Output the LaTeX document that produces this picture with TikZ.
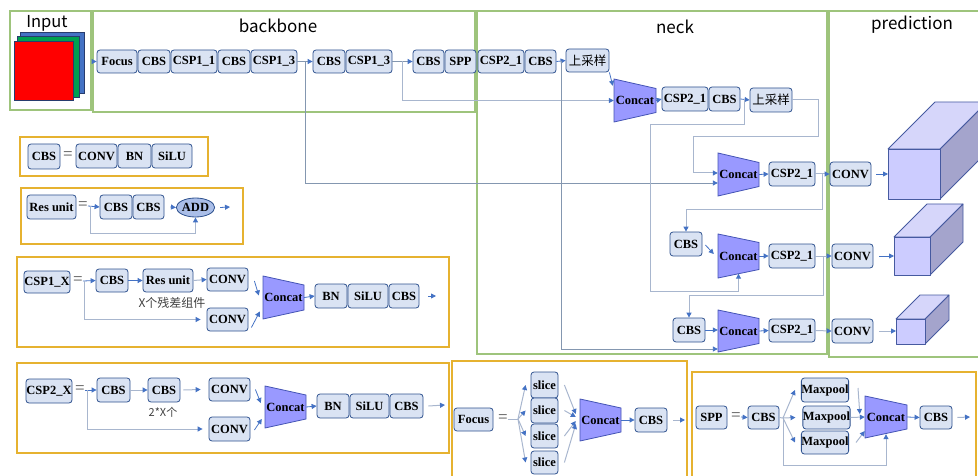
\documentclass[tikz,border=0pt]{standalone}
\usepackage{fontspec}
\setmainfont{Liberation Serif}
\newfontfamily\cjk{Noto Sans CJK SC}
\usetikzlibrary{arrows.meta,calc,shapes.geometric}
\definecolor{bfill}{RGB}{218,227,243}
\definecolor{bdraw}{RGB}{47,82,143}
\definecolor{cfill}{RGB}{153,153,255}
\definecolor{cdraw}{RGB}{68,84,180}
\definecolor{arrb}{RGB}{68,114,196}
\definecolor{lnA}{RGB}{132,151,176}
\definecolor{lnB}{RGB}{168,182,206}
\definecolor{gfr}{RGB}{158,196,124}
\definecolor{yfr}{RGB}{230,178,48}
\definecolor{addfill}{RGB}{170,190,232}
\definecolor{cubefront}{RGB}{204,204,255}
\definecolor{cubetop}{RGB}{214,214,250}
\definecolor{cubeside}{RGB}{164,164,204}
\definecolor{cubedraw}{RGB}{70,90,160}
\definecolor{inblue}{RGB}{68,114,196}
\definecolor{ingreen}{RGB}{0,160,80}
\definecolor{sqdraw}{RGB}{40,60,110}
\newcommand\Bx[6]{\node[blk, minimum width={#4-#2}, minimum height={#5-#3}] (#1) at ({(#2+#4)/2},{(#3+#5)/2}) {#6};}
\newcommand\Fr[6]{\node[#6, inner sep=0pt, minimum width={#4-#2}, minimum height={#5-#3}] (#1) at ({(#2+#4)/2},{(#3+#5)/2}) {};}
\newcommand\Cc[6]{\draw[catst] (#2,{#4-#5}) -- (#3,{#4-#6}) -- (#3,{#4+#6}) -- (#2,{#4+#5}) -- cycle;
 \node[cattx, minimum width={#3-#2}, minimum height={2*#5}] (#1) at ({(#2+#3)/2},#4) {Concat};}
\newcommand\Cube[5]{%
 \draw[cubeS, fill=cubeside] (#3,#2) -- ({#3+#5},{#2-#5}) -- ({#3+#5},{#4-#5}) -- (#3,#4) -- cycle;
 \draw[cubeS, fill=cubetop] (#1,#2) -- ({#1+#5},{#2-#5}) -- ({#3+#5},{#2-#5}) -- (#3,#2) -- cycle;
 \draw[cubeS, fill=cubefront] (#1,#2) rectangle (#3,#4);}
\newcommand\Eq[3]{\node[eqst] (#1) at (#2,#3) {=};}
\begin{document}
\begin{tikzpicture}[x=1pt,y=-1pt,
 blk/.style={draw=bdraw, fill=bfill, rounded corners=3pt, line width=0.8pt, inner sep=0pt, font=\fontsize{12.5}{14}\selectfont\bfseries},
 catst/.style={draw=cdraw, fill=cfill, line width=0.8pt},
 cattx/.style={inner sep=0pt, font=\fontsize{12.5}{14}\selectfont\bfseries},
 tipb/.style={-{Triangle[length=5pt,width=5pt,color=arrb]}},
 arr/.style={draw=arrb, line width=0.8pt, tipb},
 lna/.style={draw=lnA, line width=0.9pt, tipb},
 lnb/.style={draw=lnB, line width=1pt, tipb},
 plain/.style={draw=lnB, line width=1pt},
 gframe/.style={draw=gfr, line width=2pt},
 yframe/.style={draw=yfr, line width=2pt},
 eqst/.style={inner sep=0pt, font=\fontsize{17}{17}\selectfont, text=black!70},
 ttl/.style={font=\cjk\fontsize{17}{20}\selectfont},
 cubeS/.style={draw=cubedraw, line width=0.8pt, line join=round},
 sq/.style={draw=sqdraw, line width=0.6pt},
 note/.style={font=\cjk\fontsize{12}{14}\selectfont, text=black!75},
 addst/.style={ellipse, draw=bdraw, fill=addfill, line width=0.8pt, inner sep=0pt, minimum width=35, minimum height=19, font=\fontsize{12.5}{14}\selectfont\bfseries}
]
\useasboundingbox (0,0) rectangle (978,476);
% frames
\Fr{inframe}{10}{11}{91}{110}{gframe}
\Fr{bbframe}{93}{11}{475}{112}{gframe}
\Fr{neckframe}{477}{11}{827}{354}{gframe}
\Fr{predframe}{829}{11}{990}{357}{gframe}
\Fr{cbsL}{20}{137}{208}{176}{yframe}
\Fr{resL}{21}{188}{243}{244}{yframe}
\Fr{c1L}{17}{257}{449}{347}{yframe}
\Fr{c2L}{17}{363}{449}{453}{yframe}
\Fr{fL}{452}{361}{687}{484}{yframe}
\Fr{sL}{692}{372}{976}{484}{yframe}
% titles
\node[ttl, font=\cjk\fontsize{16.5}{18}\selectfont] (tin) at (47,23) {Input};
\node[ttl] (tbb) at (278,26) {backbone};
\node[ttl] (tneck) at (675,27) {neck};
\node[ttl] (tpred) at (912,25) {prediction};
% input
\draw[sq, fill=inblue] (20,32) rectangle (84,93);
\draw[sq, fill=ingreen] (17,36) rectangle (79,97);
\draw[sq, fill=red] (14,41) rectangle (73,100);
% backbone
\Bx{focus}{97}{50}{137}{73}{Focus}
\Bx{bcbs1}{138}{50}{170}{73}{CBS}
\Bx{csp11}{171}{50}{217}{73}{CSP1\_1}
\Bx{bcbs2}{218}{50}{250}{73}{CBS}
\Bx{csp13a}{251}{50}{297}{73}{CSP1\_3}
\Bx{bcbs3}{313}{50}{345}{73}{CBS}
\Bx{csp13b}{346}{50}{392}{73}{CSP1\_3}
\Bx{bcbs4}{413}{50}{444}{73}{CBS}
\Bx{spp}{445}{50}{476}{73}{SPP}
\Bx{csp21a}{478}{50}{524}{73}{CSP2\_1}
\Bx{ncbs1}{525}{50}{556}{73}{CBS}
\Bx{up1}{566}{49}{609}{72}{{\cjk\mdseries 上采样}}
% neck
\Cc{cat1}{614}{656}{100.5}{21.5}{12}
\Bx{csp21b}{662}{87}{708}{111}{CSP2\_1}
\Bx{ncbs2}{709}{87}{740}{111}{CBS}
\Bx{up2}{750}{88}{792}{112}{{\cjk\mdseries 上采样}}
\Cc{cat2}{718}{759}{174.5}{21.5}{12}
\Bx{cspr2}{769}{162}{815}{186}{CSP2\_1}
\Bx{conv1}{830}{162}{871}{186}{CONV}
\Bx{cbsr3}{670}{232}{702}{256}{CBS}
\Cc{cat3}{718}{759}{256}{22}{13.5}
\Bx{cspr3}{769}{244}{815}{268}{CSP2\_1}
\Bx{conv2}{832}{244}{873}{268}{CONV}
\Bx{cbsr4}{673}{318}{705}{342}{CBS}
\Cc{cat4}{718}{759}{331}{21}{12.5}
\Bx{cspr4}{769}{319}{815}{342}{CSP2\_1}
\Bx{conv3}{832}{319}{873}{343}{CONV}
% main connectors
\draw[arr] (focus.west -| inframe.east) -- (focus.west);
\draw[lna] (csp13a.east) -- (bcbs3.west);
\draw[lna] (csp13b.east) -- (bcbs4.west);
\draw[lna] ($(csp13a.east)!0.5!(bcbs3.west)$) |- ($(cat2.west)+(0,8.5)$);
\draw[lnb] ($(csp13b.east)!0.5!(bcbs4.west)$) |- (cat1.west);
\draw[arr] (ncbs1.east) -- (up1.west);
\draw[lna] ($(ncbs1.east)!0.6!(up1.west)$) |- ($(cat4.west)+(0,18)$);
\draw[arr] (up1.south east) -- ($(cat1.north west)+(-1,7)$);
\draw[arr] (cat1.east) -- (csp21b.west);
\draw[arr] (ncbs2.east) -- (up2.west);
\draw[lnb] ($(ncbs2.east)!0.4!(up2.west)$) -- ++(0,25) -| (650,291) -| ($(cat3.south)+(0,-4.5)$);
\draw[lnb] (up2.east) -- ++(26,0) |- (693,137) |- ($(cat2.west)+(0,-1.5)$);
\draw[arr] (cat2.east) -- (cspr2.west);
\draw[lnb] (cspr2.east) -- (conv1.west);
\draw[lnb] ($(cspr2.east)!0.47!(conv1.west)$) |- ($(cbsr3.north)+(0,-22)$) -- (cbsr3.north);
\draw[arr] ($(cbsr3.east)+(3,1)$) -- ($(cat3.west)+(-4,-2)$);
\draw[arr] (cat3.east) -- (cspr3.west);
\draw[lnb] (cspr3.east) -- (conv2.west);
\draw[lnb] ($(cspr3.east)!0.5!(conv2.west)$) |- ($(cbsr4.north)+(0,-22)$) -- (cbsr4.north);
\draw[arr] (cbsr4.east) -- ($(cat4.west)+(0,-1)$);
\draw[arr] (cat4.east) -- (cspr4.west);
\draw[lnb] (cspr4.east) -- (conv3.west);
% cubes
\Cube{888}{149}{940}{199}{47}
\coordinate (cube1) at (888,174);
\draw[arr] ($(conv1.east)+(5,0)$) -- (cube1);
\Cube{894}{237}{930}{275}{33}
\coordinate (cube2) at (894,256);
\draw[arr] ($(conv2.east)+(6,0)$) -- (cube2);
\Cube{896}{319}{925}{344}{24}
\coordinate (cube3) at (896,331);
\draw[lnb] ($(conv3.east)+(6,0)$) -- (cube3);
% CBS legend
\Bx{lcbs}{28}{144}{60}{169}{CBS}
\Eq{eq1}{68}{156}
\Bx{lconv}{76}{144}{117}{168}{CONV}
\Bx{lbn}{118}{144}{151}{168}{BN}
\Bx{lsilu}{152}{144}{192}{168}{SiLU}
% Res unit legend
\Bx{lres}{27}{195}{76}{219}{Res unit}
\Eq{eq2}{83}{206}
\Bx{rcbs1}{100}{195}{132}{219}{CBS}
\Bx{rcbs2}{133}{195}{164}{219}{CBS}
\node[addst] (add) at (195.5,207.5) {ADD};
\draw[arr] (eq2.east) -- (rcbs1.west);
\draw[lnb] ($(eq2.east)+(3,0)$) |- ($(add.south)+(0,16)$) -- (add.south);
\draw[arr] ($(rcbs2.east)+(6,0)$) -- (add.west);
\coordinate (rout) at (230,207);
\draw[arr] ($(add.east)+(5,0)$) -- (rout);
% CSP1_X legend
\Bx{c1x}{24}{271}{70}{293}{CSP1\_X}
\Eq{eq3}{78}{281}
\Bx{c1cbs}{96}{269}{128}{292}{CBS}
\Bx{c1res}{143}{269}{193}{292}{Res unit}
\Bx{c1conv1}{207}{268}{248}{291}{CONV}
\Bx{c1conv2}{207}{308}{248}{331}{CONV}
\Cc{c1cat}{263}{304}{297.5}{21.5}{12.5}
\Bx{c1bn}{315}{284}{347}{308}{BN}
\Bx{c1silu}{348}{284}{388}{308}{SiLU}
\Bx{c1cbs2}{389}{284}{419}{308}{CBS}
\node[note] (c1note) at (172,303) {X个残差组件};
\draw[arr] (eq3.east) -- (c1cbs.west);
\draw[lnb] ($(eq3.east)+(2,0)$) |- ($(c1conv2.west)+(-6,0)$);
\draw[arr] (c1cbs.east) -- (c1res.west);
\draw[lnb] (c1res.east) -- (c1conv1.west);
\draw[arr] ($(c1conv1.east)+(6,1.5)$) -- ($(c1cat.west)+(-4,-2)$);
\draw[arr] ($(c1conv2.east)+(3,8)$) -- ($(c1cat.west)+(-3,14)$);
\draw[arr] (c1cat.east) -- (c1bn.west);
\coordinate (c1out) at (436,296);
\draw[arr] ($(c1cbs2.east)+(9,0)$) -- (c1out);
% CSP2_X legend
\Bx{c2x}{26}{379}{72}{403}{CSP2\_X}
\Eq{eq4}{80}{390}
\Bx{c2cbs1}{97}{378}{130}{402}{CBS}
\Bx{c2cbs2}{148}{378}{180}{402}{CBS}
\node[note, font=\cjk\fontsize{11}{13}\selectfont] (c2note) at (163,412) {2*X个};
\Bx{c2conv1}{209}{378}{250}{401}{CONV}
\Bx{c2conv2}{209}{417}{250}{441}{CONV}
\Cc{c2cat}{265}{306}{407}{21}{12}
\Bx{c2bn}{317}{394}{349}{418}{BN}
\Bx{c2silu}{350}{394}{389}{418}{SiLU}
\Bx{c2cbs3}{390}{394}{423}{418}{CBS}
\draw[arr] (eq4.east) -- (c2cbs1.west);
\draw[lnb] ($(eq4.east)+(3,0)$) |- ($(c2conv2.west)+(-6,0)$);
\draw[lnb] (c2cbs1.east) -- (c2cbs2.west);
\draw[lnb] ($(c2cbs2.east)+(3,0)$) -- ($(c2conv1.west)+(-8,0)$);
\draw[arr] ($(c2conv1.east)+(5,0)$) -- ($(c2cat.west)+(-4,-4)$);
\draw[arr] ($(c2conv2.east)+(4,1)$) -- ($(c2cat.west)+(-3,12)$);
\draw[arr] (c2cat.east) -- (c2bn.west);
\coordinate (c2out) at (445,405);
\draw[lnb] ($(c2cbs3.east)+(5,0)$) -- (c2out);
% Focus legend
\Bx{lfocus}{454}{408}{493}{431}{Focus}
\Eq{eq5}{503}{419}
\Bx{sl1}{531}{372}{558}{398}{slice}
\Bx{sl2}{531}{398}{558}{423}{slice}
\Bx{sl3}{531}{424}{558}{448}{slice}
\Bx{sl4}{531}{451}{558}{474}{slice}
\Cc{fcat}{580}{621}{420}{21}{12}
\Bx{fcbs}{635}{408}{667}{432}{CBS}
\coordinate (ff) at (518,419);
\draw[plain] (eq5.east) -- (ff);
\foreach \s in {sl1,sl2,sl3,sl4} \draw[lnb] (ff) -- ($(\s.west)+(-5,0)$);
\draw[lnb] ($(sl1.east)+(6,0)$) -- ($(fcat.west)+(-4,-6)$);
\draw[lnb] ($(sl2.east)+(6,0)$) -- ($(fcat.west)+(-4,-3)$);
\draw[lnb] ($(sl3.east)+(6,0)$) -- ($(fcat.west)+(-4,1)$);
\draw[lnb] ($(sl4.east)+(6,0)$) -- ($(fcat.west)+(-4,4)$);
\draw[arr] (fcat.east) -- (fcbs.west);
\coordinate (fout) at (685,420);
\draw[lnb] ($(fcbs.east)+(6,0)$) -- (fout);
% SPP legend
\Bx{lspp}{696}{406}{727}{429}{SPP}
\Eq{eq6}{736}{417}
\Bx{scbs1}{748}{406}{779}{429}{CBS}
\Bx{mp1}{802}{378}{848}{402}{Maxpool}
\Bx{mp2}{803}{406}{850}{429}{Maxpool}
\Bx{mp3}{802}{431}{848}{454}{Maxpool}
\Cc{scat}{865}{907}{417}{21}{12}
\Bx{scbs2}{920}{406}{952}{429}{CBS}
\draw[arr] (eq6.east) -- (scbs1.west);
\coordinate (sf) at (783,418);
\draw[plain] (scbs1.east) -- (sf);
\draw[lnb] (sf) -- ($(mp1.west)+(-6,0)$);
\draw[lnb] (sf) -- ($(mp2.west)+(-7,0)$);
\draw[lnb] (sf) -- ($(mp3.west)+(-6,0)$);
\draw[lnb] (sf) |- ($(scat.south)+(0,27)$) -- ($(scat.south)+(0,-4)$);
\draw[lnb] ($(mp1.east)+(9,-2)$) -- ($(scat.west)+(-5,-3)$);
\draw[lnb] (mp2.east) -- (scat.west);
\draw[lnb] ($(mp3.east)+(7,0)$) -- ($(scat.west)+(0,14)$);
\draw[arr] (scat.east) -- (scbs2.west);
\coordinate (sout) at (970,417);
\draw[lnb] ($(scbs2.east)+(5,0)$) -- (sout);
\end{tikzpicture}
\end{document}
